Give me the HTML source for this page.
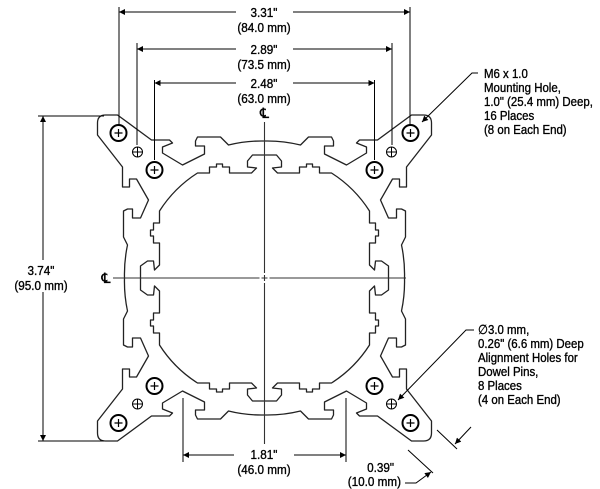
<!DOCTYPE html>
<html><head><meta charset="utf-8"><style>
html,body{margin:0;padding:0;background:#fff;}
svg{display:block;}
text{font-family:"Liberation Sans","DejaVu Sans",sans-serif;font-size:13px;fill:#000;stroke:#000;stroke-width:0.35px;}
</style></head><body>
<svg width="600" height="489" viewBox="0 0 600 489" xmlns="http://www.w3.org/2000/svg">
<defs>
<marker id="ar" viewBox="0 0 10 10" refX="10" refY="5" markerWidth="9" markerHeight="6" orient="auto" markerUnits="userSpaceOnUse">
<path d="M0,0 L10,5 L0,10 z" fill="#000"/>
</marker>
<g id="qo">
<path d="M0,-137 A137,137 0 0 0 -36,-133 L-44,-141 L-67,-141 L-69,-137 L-69,-132 L-60,-132 L-60,-124 L-82,-113 L-102,-125 L-102,-131 L-92,-135 L-95,-138 L-113,-138 L-147,-163 L-159,-163 Q-167,-163 -167,-155 L-167,-143 L-142,-111 L-142,-91 L-135,-91 L-135,-99 L-128,-99 L-116,-78 L-124,-60 L-132,-60 L-132,-69 L-137,-69 L-141,-67 L-141,-41 L-137,-33 A140,140 0 0 0 -140,0"/>
<path d="M0,-123 L-12,-123 L-17,-117 L-17,-111 L-8,-110 L-13,-105 L-35,-105 L-35,-111 L-42,-111 L-42,-114 L-48,-114 L-48,-111 L-55,-111 L-55,-105 L-67,-105 A124,124 0 0 0 -105,-67 L-105,-55 L-111,-55 L-111,-48 L-114,-48 L-114,-42 L-111,-42 L-111,-35 L-105,-35 L-105,-13 L-110,-8 L-111,-17 L-117,-17 L-124,-12 L-124,0"/>
</g>
<g id="qh">
<circle cx="-146" cy="-145" r="8" stroke-width="2"/>
<path d="M-150,-145 h8 M-146,-149 v8" stroke-width="1.2"/>
<circle cx="-110" cy="-108" r="8" stroke-width="2"/>
<path d="M-114,-108 h8 M-110,-112 v8" stroke-width="1.2"/>
<circle cx="-127" cy="-126" r="5" stroke-width="1"/>
<path d="M-132,-126 h10 M-127,-131 v10" stroke-width="1"/>
</g>
</defs>

<g fill="none" stroke="#222" stroke-width="1.3" stroke-linejoin="round">
<use href="#qo" transform="translate(264.5,278)"/>
<use href="#qo" transform="translate(264.5,278) scale(-1,1)"/>
<use href="#qo" transform="translate(264.5,278) scale(1,-1)"/>
<use href="#qo" transform="translate(264.5,278) scale(-1,-1)"/>
</g>
<g fill="#fff" stroke="#000">
<use href="#qh" transform="translate(264.5,278)"/>
<use href="#qh" transform="translate(264.5,278) scale(-1,1)"/>
<use href="#qh" transform="translate(264.5,278) scale(1,-1)"/>
<use href="#qh" transform="translate(264.5,278) scale(-1,-1)"/>
</g>

<g stroke="#333" stroke-width="1.1" fill="none">
<path d="M264.5,122 V273 M264.5,283 V446 M113,278 H259.5 M269.5,278 H406 M261.5,278 h6 M264.5,275 v6"/>
</g>
<text x="264.5" y="118" text-anchor="middle" style="font-size:14px">℄</text>
<text x="106" y="283" text-anchor="middle" style="font-size:14px">℄</text>

<g stroke="#000" stroke-width="1" fill="none">
<path d="M119,7 V125 M410,7 V125 M137,43 V145 M392,43 V145 M154.5,80 V160 M374.5,80 V160"/>
<path d="M38,116 H104 M38,441 H104"/>
<path d="M183,398 V462 M346,398 V462"/>
<path d="M437,430 L457,449 M408,450 L433,473"/>
<path d="M474,330 H466 L398,400" marker-end="url(#ar)"/>
<path d="M478,73 H472 L422,122" marker-end="url(#ar)"/>
</g>
<g stroke="#000" stroke-width="1" fill="none">
<path d="M264,12 H119" marker-end="url(#ar)"/><path d="M264,12 H410" marker-end="url(#ar)"/>
<path d="M264,49 H137" marker-end="url(#ar)"/><path d="M264,49 H392" marker-end="url(#ar)"/>
<path d="M264,83 H154.5" marker-end="url(#ar)"/><path d="M264,83 H374.5" marker-end="url(#ar)"/>
<path d="M43,278 V116" marker-end="url(#ar)"/><path d="M43,278 V441" marker-end="url(#ar)"/>
<path d="M264,455 H183" marker-end="url(#ar)"/><path d="M264,455 H346" marker-end="url(#ar)"/>
<path d="M471,427 L455,444" marker-end="url(#ar)"/>
<path d="M405,483 H416 L431,472" marker-end="url(#ar)"/>
</g>

<g fill="#fff">
<rect x="236" y="3" width="57" height="30"/>
<rect x="236" y="40" width="57" height="30"/>
<rect x="236" y="74" width="57" height="30"/>
<rect x="13" y="260" width="60" height="32"/>
<rect x="234" y="444" width="60" height="30"/>
</g>
<g text-anchor="middle">
<text transform="translate(264,17) scale(0.9,1)">3.31"</text>
<text transform="translate(264,32) scale(0.9,1)">(84.0 mm)</text>
<text transform="translate(264,54) scale(0.9,1)">2.89"</text>
<text transform="translate(264,69) scale(0.9,1)">(73.5 mm)</text>
<text transform="translate(264,88) scale(0.9,1)">2.48"</text>
<text transform="translate(264,103) scale(0.9,1)">(63.0 mm)</text>
<text transform="translate(41,275) scale(0.9,1)">3.74"</text>
<text transform="translate(41,290) scale(0.9,1)">(95.0 mm)</text>
<text transform="translate(264,459) scale(0.9,1)">1.81"</text>
<text transform="translate(264,474) scale(0.9,1)">(46.0 mm)</text>
</g>
<g text-anchor="end">
<text transform="translate(394,472) scale(0.9,1)">0.39"</text>
<text transform="translate(401,486) scale(0.9,1)">(10.0 mm)</text>
</g>
<g transform="translate(484,0) scale(0.88,1)">
<text x="0" y="78">M6 x 1.0</text>
<text x="0" y="92">Mounting Hole,</text>
<text x="0" y="106">1.0" (25.4 mm) Deep,</text>
<text x="0" y="120">16 Places</text>
<text x="0" y="134">(8 on Each End)</text>
</g>
<g transform="translate(478,0) scale(0.88,1)">
<text x="0" y="334">∅3.0 mm,</text>
<text x="0" y="348">0.26" (6.6 mm) Deep</text>
<text x="0" y="362">Alignment Holes for</text>
<text x="0" y="376">Dowel Pins,</text>
<text x="0" y="390">8 Places</text>
<text x="0" y="404">(4 on Each End)</text>
</g>
</svg>
</body></html>
